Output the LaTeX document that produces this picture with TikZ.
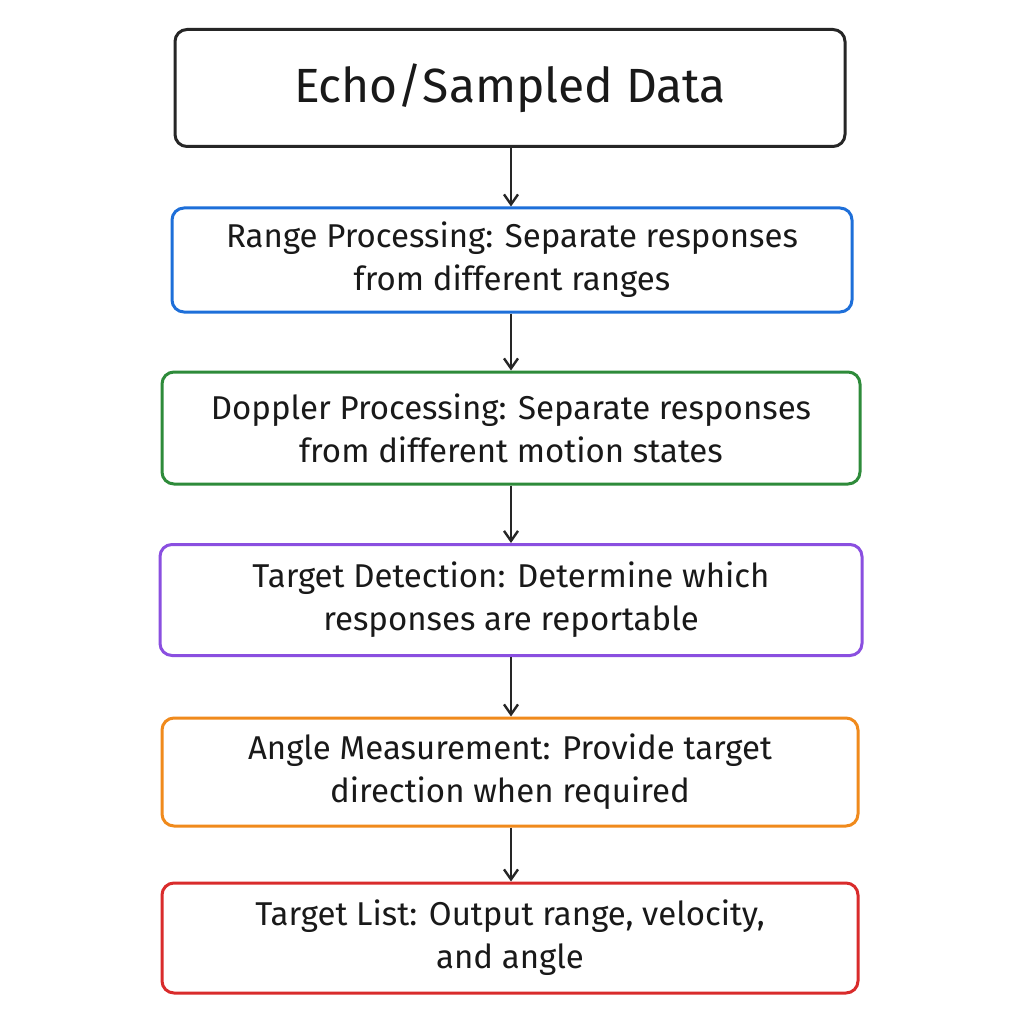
\documentclass[tikz,border=0pt]{standalone}
\usepackage{fontspec}
\setmainfont{Fira Sans}
\usetikzlibrary{arrows.meta}
\definecolor{cblue}{HTML}{1E6FD9}
\definecolor{cgreen}{HTML}{2E8B3A}
\definecolor{cpurple}{HTML}{8A4FE0}
\definecolor{corange}{HTML}{F08A1C}
\definecolor{cred}{HTML}{D92B2B}
\tikzset{
 box/.style={draw, line width=3pt, rounded corners=12pt, align=center, inner sep=0pt, font=\fontsize{33}{43}\selectfont, text=black!90},
 arr/.style={-{Straight Barb[length=10pt,width=14pt]}, line width=2.4pt, black!85}
}
\begin{document}
\begin{tikzpicture}[x=1pt,y=-1pt]
\useasboundingbox[fill=white] (0,0) rectangle (1024,1024);
\node[box, draw=black!85, minimum width=670pt, minimum height=117pt, font=\fontsize{48}{50}\selectfont] (a) at (510,88) {Echo/Sampled Data};
\node[box, draw=cblue, minimum width=680pt, minimum height=104pt] (b) at (512,260) {Range Processing: Separate responses\\from different ranges};
\node[box, draw=cgreen, minimum width=698pt, minimum height=112pt] (c) at (511,428) {Doppler Processing: Separate responses\\from different motion states};
\node[box, draw=cpurple, minimum width=702pt, minimum height=111pt] (d) at (511,600) {Target Detection: Determine which\\responses are reportable};
\node[box, draw=corange, minimum width=696pt, minimum height=108pt] (e) at (510,772) {Angle Measurement: Provide target\\direction when required};
\node[box, draw=cred, minimum width=696pt, minimum height=110pt] (f) at (510,938) {Target List: Output range, velocity,\\and angle};
\draw[arr] (a.south -| 511,0) -- (b.north -| 511,0);
\draw[arr] (b.south -| 511,0) -- (c.north -| 511,0);
\draw[arr] (c.south -| 511,0) -- (d.north -| 511,0);
\draw[arr] (d.south -| 511,0) -- (e.north -| 511,0);
\draw[arr] (e.south -| 511,0) -- (f.north -| 511,0);
\end{tikzpicture}
\end{document}
